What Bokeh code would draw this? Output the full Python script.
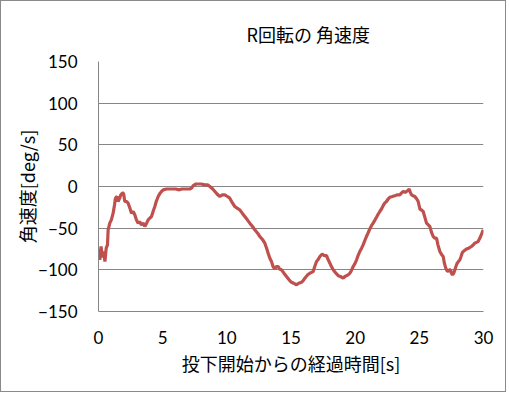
from bokeh.plotting import figure
from bokeh.models import Range1d, FixedTicker, Title
from bokeh.embed import file_html
from bokeh.resources import INLINE

title_text = "R回転の 角速度"
x_label = "投下開始からの経過時間[s]"
y_label = "角速度[deg/s]"
x_ticks = [0, 5, 10, 15, 20, 25, 30]
y_ticks = [-150, -100, -50, 0, 50, 100, 150]

time_s = [0.0, 0.1, 0.2, 0.3, 0.4, 0.5, 0.6, 0.7, 0.75, 0.88, 1.0, 1.14, 1.25, 1.32, 1.45, 1.53,
          1.65, 1.74, 1.85, 1.95, 2.05, 2.2, 2.31, 2.45, 2.57, 2.7, 2.83, 2.95, 3.09, 3.2, 3.35,
          3.5, 3.61, 3.75, 3.87, 4.0, 4.13, 4.3, 4.39, 4.5, 4.65, 4.8, 4.91, 5.04, 5.3, 5.6, 6.0,
          6.3, 6.5, 6.8, 7.12, 7.25, 7.38, 7.6, 7.77, 8.0, 8.29, 8.5, 8.68, 8.9, 9.07, 9.3, 9.45,
          9.65, 9.84, 10.05, 10.23, 10.45, 10.62, 10.8, 11.01, 11.2, 11.4, 11.6, 11.79, 12.0,
          12.18, 12.4, 12.57, 12.8, 12.96, 13.1, 13.22, 13.35, 13.48, 13.6, 13.74, 13.85, 14.0,
          14.1, 14.26, 14.45, 14.65, 14.85, 15.04, 15.2, 15.43, 15.6, 15.82, 15.95, 16.08, 16.3,
          16.47, 16.6, 16.73, 16.85, 16.99, 17.1, 17.25, 17.43, 17.6, 17.77, 17.9, 18.03, 18.15,
          18.29, 18.5, 18.68, 18.85, 19.07, 19.2, 19.33, 19.45, 19.59, 19.7, 19.85, 20.0, 20.11,
          20.25, 20.36, 20.5, 20.62, 20.75, 20.88, 21.0, 21.14, 21.27, 21.4, 21.55, 21.66, 21.8,
          21.92, 22.05, 22.18, 22.3, 22.44, 22.57, 22.7, 22.9, 23.09, 23.3, 23.48, 23.6, 23.74,
          23.9, 24.0, 24.1, 24.21, 24.3, 24.39, 24.5, 24.65, 24.8, 24.91, 25.0, 25.04, 25.15,
          25.3, 25.45, 25.56, 25.7, 25.82, 25.95, 26.08, 26.2, 26.34, 26.45, 26.6, 26.75, 26.86,
          26.95, 27.06, 27.15, 27.25, 27.35, 27.43, 27.5, 27.58, 27.68, 27.77, 27.85, 27.95,
          28.05, 28.16, 28.25, 28.36, 28.5, 28.67, 28.85, 29.06, 29.2, 29.32, 29.45, 29.58,
          29.68, 29.77, 29.88, 29.98]
omega = [-75, -88, -72, -85, -78, -90, -74, -70, -52, -44, -40, -32, -22, -14, -12, -18,
         -14, -10, -8, -8, -18, -18, -20, -26, -32, -30, -34, -40, -44, -42, -46,
         -44, -48, -44, -40, -38, -36, -28, -24, -18, -12, -8, -6, -4, -3, -3, -3,
         -4, -3, -3, -3, -2, 1, 3, 3, 3, 2, 2, 0, -3, -6, -10, -12,
         -10, -10, -12, -14, -20, -24, -26, -28, -32, -36, -40, -44, -48,
         -52, -56, -60, -64, -68, -74, -80, -86, -90, -96, -99, -96, -96,
         -99, -100, -104, -108, -112, -115, -116, -118, -116, -115, -113, -110, -106,
         -104, -103, -102, -96, -90, -88, -84, -81, -83, -83, -88, -92, -96,
         -100, -104, -107, -108, -110, -108, -107, -106, -104, -101, -96, -92, -88,
         -82, -78, -74, -70, -65, -60, -56, -51, -47, -44, -40, -37, -33,
         -30, -27, -23, -20, -18, -15, -13, -12, -11, -10, -10, -8, -6,
         -7, -6, -5, -3, -7, -10, -11, -12, -15, -18, -24, -27, -28,
         -30, -38, -44, -46, -48, -55, -60, -62, -62, -70, -78, -82, -84,
         -92, -98, -101, -102, -100, -100, -104, -106, -104, -100, -96, -92,
         -90, -88, -84, -79, -77, -75, -74, -72, -70, -68, -67, -66,
         -63, -60, -56, -52]

p = figure(width=506, height=392, output_backend="svg", toolbar_location=None,
           x_range=Range1d(0, 30), y_range=Range1d(-150, 150),
           min_border_left=97, min_border_right=24, min_border_top=60, min_border_bottom=82)
p.styles = {"border": "1px solid #8a8a8a", "box-sizing": "border-box"}
p.outline_line_color = None
p.background_fill_color = "white"
p.border_fill_color = "white"

t = Title(text=title_text, align="left", offset=148, text_font="Noto Sans CJK JP",
          text_font_size="18px", text_font_style="normal", text_color="#000000", standoff=30)
p.add_layout(t, "above")

p.line(time_s, omega, line_color="#C0504D", line_width=3.2)

for ax in (p.xaxis[0], p.yaxis[0]):
    ax.axis_line_color = "#868686"
    ax.axis_line_width = 1
    ax.major_tick_line_color = None
    ax.minor_tick_line_color = None
    ax.major_label_text_font = "Lato"
    ax.major_label_text_font_size = "17px"
    ax.major_label_text_color = "#000000"
    ax.axis_label_text_font = "Noto Sans CJK JP"
    ax.axis_label_text_font_size = "18px"
    ax.axis_label_text_font_style = "normal"
    ax.axis_label_text_color = "#000000"

p.xaxis[0].ticker = FixedTicker(ticks=x_ticks)
p.yaxis[0].ticker = FixedTicker(ticks=y_ticks)
p.xaxis[0].axis_label = x_label
p.yaxis[0].axis_label = y_label
p.xaxis[0].major_label_standoff = 13
p.xaxis[0].axis_label_standoff = 3
p.yaxis[0].major_label_standoff = 15
p.yaxis[0].axis_label_standoff = -5

p.xgrid.grid_line_color = None
p.ygrid.grid_line_color = "#868686"
p.ygrid.grid_line_width = 1

open("out.html", "w").write(file_html(p, INLINE))
